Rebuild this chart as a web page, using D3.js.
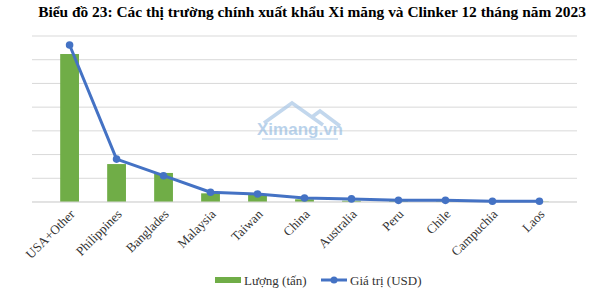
<!DOCTYPE html>
<html>
<head>
<meta charset="utf-8">
<script src="https://cdn.jsdelivr.net/npm/d3@7"></script>
<style>
	body { margin: 0; background: #fff; }
	text { font-family: "Liberation Serif", "DejaVu Serif", serif; }
</style>
</head>
<body>
<div id="chart"></div>
<script>
// data
let markets = ["USA+Other", "Philippines", "Banglades", "Malaysia", "Taiwan", "China",
	"Australia", "Peru", "Chile", "Campuchia", "Laos"];
// Lượng (nghìn tấn)
let quantity = [12480, 3200, 2450, 730, 590, 230, 110, 70, 60, 40, 30];
// Giá trị (triệu USD)
let value = [662, 181, 111, 41, 34, 17, 13, 7, 7, 3, 3];
let qtyTicks = [0, 2000, 4000, 6000, 8000, 10000, 12000, 14000];

let W = 597, H = 290;
let margin = { top: 36, right: 20, bottom: 88, left: 32 },
	w = W - margin.left - margin.right,
	h = H - margin.top - margin.bottom;

let svg = d3.select("#chart")
	.append("svg")
	.attr("width", W)
	.attr("height", H);

// title
svg.append("text")
	.attr("x", 312)
	.attr("y", 17)
	.attr("text-anchor", "middle")
	.attr("font-weight", "bold")
	.attr("font-size", "15.4px")
	.attr("fill", "#000")
	.text("Biểu đồ 23: Các thị trường chính xuất khẩu Xi măng và Clinker 12 tháng năm 2023");

let g = svg.append("g")
	.attr("transform", "translate(" + margin.left + "," + margin.top + ")");

let x = d3.scaleBand()
	.domain(markets)
	.range([0, w])
	.padding(0.6);

let yQty = d3.scaleLinear()
	.domain([0, 14000])
	.range([h, 0]);

let yVal = d3.scaleLinear()
	.domain([0, 700])
	.range([h, 0]);

// gridlines
g.append("g")
	.selectAll("line")
	.data(qtyTicks)
	.enter().append("line")
	.attr("x1", 0)
	.attr("x2", w)
	.attr("y1", d => yQty(d))
	.attr("y2", d => yQty(d))
	.attr("stroke", "#d9d9d9")
	.attr("stroke-width", 1);

// watermark
let wm = g.append("g")
	.attr("transform", "translate(" + (300 - margin.left) + ",0)")
	.attr("opacity", 0.7);
wm.append("path")
	.attr("d", "M-36,87 L-8,67 L23,89 M12,81 L20,75 L40,90")
	.attr("fill", "none")
	.attr("stroke", "#a9c7e6")
	.attr("stroke-width", 3.5);
wm.append("text")
	.attr("x", 0)
	.attr("y", 99)
	.attr("text-anchor", "middle")
	.style("font-family", "'Liberation Sans', Arial, sans-serif")
	.attr("font-size", "17px")
	.attr("font-weight", "bold")
	.attr("fill", "#9cbfe3")
	.text("Ximang.vn");
wm.append("line")
	.attr("x1", -38).attr("x2", 38)
	.attr("y1", 103).attr("y2", 103)
	.attr("stroke", "#b5cfe8")
	.attr("stroke-width", 1.5);

// bars
g.append("g")
	.selectAll("rect")
	.data(markets)
	.enter().append("rect")
	.attr("x", d => x(d))
	.attr("y", (d, i) => yQty(quantity[i]))
	.attr("width", x.bandwidth())
	.attr("height", (d, i) => h - yQty(quantity[i]))
	.attr("fill", "#70ad47");

// x axis line
g.append("line")
	.attr("x1", 0).attr("x2", w)
	.attr("y1", h).attr("y2", h)
	.attr("stroke", "#d9d9d9");

// value line
let cx = d => x(d) + x.bandwidth() / 2;
let line = d3.line()
	.x(d => cx(d))
	.y((d, i) => yVal(value[i]));
g.append("path")
	.datum(markets)
	.attr("d", line)
	.attr("fill", "none")
	.attr("stroke", "#4472c4")
	.attr("stroke-width", 3)
	.attr("stroke-linejoin", "round");
g.append("g")
	.selectAll("circle")
	.data(markets)
	.enter().append("circle")
	.attr("cx", d => cx(d))
	.attr("cy", (d, i) => yVal(value[i]))
	.attr("r", 3.8)
	.attr("fill", "#4472c4");

// category labels
g.append("g")
	.selectAll("text")
	.data(markets)
	.enter().append("text")
	.attr("transform", d => "translate(" + (cx(d) + 6) + "," + (h + 13) + ") rotate(-45)")
	.attr("text-anchor", "end")
	.attr("font-size", "13px")
	.attr("fill", "#333")
	.text(d => d);

// legend
let lg = svg.append("g");
lg.append("rect")
	.attr("x", 215).attr("y", 277)
	.attr("width", 26).attr("height", 6)
	.attr("fill", "#70ad47");
lg.append("text")
	.attr("x", 244).attr("y", 284.5)
	.attr("font-size", "13px")
	.attr("fill", "#333")
	.text("Lượng (tấn)");
lg.append("line")
	.attr("x1", 321).attr("x2", 347)
	.attr("y1", 280).attr("y2", 280)
	.attr("stroke", "#4472c4")
	.attr("stroke-width", 3);
lg.append("circle")
	.attr("cx", 334).attr("cy", 280)
	.attr("r", 3.5)
	.attr("fill", "#4472c4");
lg.append("text")
	.attr("x", 350).attr("y", 284.5)
	.attr("font-size", "13px")
	.attr("fill", "#333")
	.text("Giá trị (USD)");
</script>
</body>
</html>
